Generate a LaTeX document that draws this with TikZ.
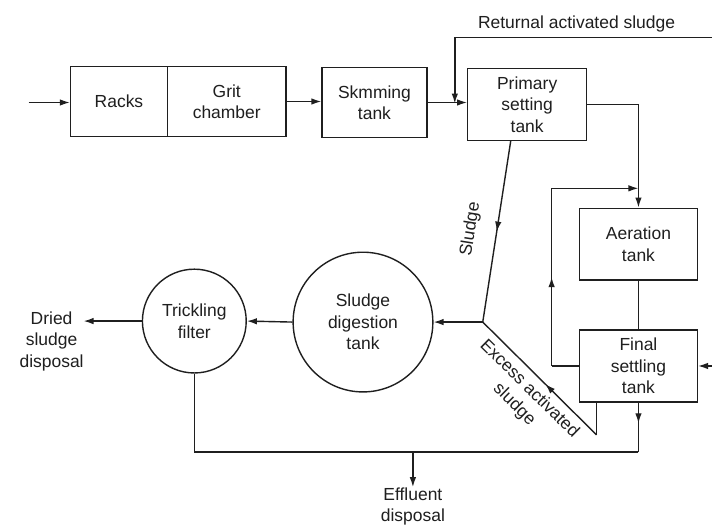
\documentclass[tikz,border=0pt]{standalone}
\usepackage{fontspec}
\setmainfont{Liberation Sans}
\usetikzlibrary{arrows.meta,decorations.markings,calc}
\begin{document}
\begin{tikzpicture}[x=1pt,y=-1pt,
  line width=1.4pt,
  every path/.style={draw=black!88},
  >={Latex[length=10pt,width=6.5pt]},
  txt/.style={font=\fontsize{17.5}{21.5}\selectfont, text=black!88},
  box/.style={txt, draw, rectangle, minimum height=70pt, inner sep=0pt, align=center},
  tank/.style={txt, draw, circle, inner sep=0pt, align=center},
  lbl/.style={txt, align=center, inner sep=0pt},
  midarrow/.style={postaction={decorate}, decoration={markings, mark=at position #1 with {\arrow{>}}}},
]
\useasboundingbox (0,0) rectangle (712,528);
\fill[white] (0,0) rectangle (712,528);

% main row
\node[box, minimum width=97pt]  (racks)   at (118.5,101) {Racks};
\node[box, minimum width=119pt] (grit)    at (226.5,101) {Grit\\chamber};
\node[box, minimum width=105pt] (skim)    at (374.5,102) {Skmming\\tank};
\node[box, minimum width=119pt, minimum height=72pt] (primary) at (527.5,104) {Primary\\setting\\tank};

% right column
\node[box, minimum width=118pt, minimum height=72pt] (aeration) at (639,244) {Aeration\\tank};
\node[box, minimum width=118pt, minimum height=72pt] (final)    at (639,366) {Final\\settling\\tank};

% circles
\node[tank, minimum size=140pt] (digest) at (363,322) {Sludge\\digestion\\tank};
\node[tank, minimum size=104pt] (trick)  at (194,321) {Trickling\\filter};

% labels
\node[lbl] (retlbl) at (577,23) {Returnal activated sludge};
\node[lbl] (dried)  at (51,341) {Dried\\sludge\\disposal};
\node[lbl] (effl)   at (413,507) {Effluent\\disposal};
\node[lbl, rotate=81] (sludgelbl) at (471,229) {Sludge};
\node[lbl, rotate=-44.5] (excesslbl) at (522,397) {Excess activated\\sludge};

% coordinates
\coordinate (inp)    at (28,102);
\coordinate (retTop) at (455,37);
\coordinate (retJn)  at (455,103);
\coordinate (rc)     at (717,37);
\coordinate (lpB)    at (552,366);
\coordinate (lpT)    at (552,188);
\coordinate (exA)    at (597,435);
\coordinate (junc)   at (483,322);
\coordinate (dr)     at (83,321);
\coordinate (bL)     at (194,452);
\coordinate (bR)     at (639,452);
\coordinate (eff)    at (413,452);

% connectors
\draw[->] (inp) -- (inp -| racks.west);
\draw[->] (grit.east) -- (grit.east -| skim.west);
\draw[->] (skim.east) -- (skim.east -| primary.west);
\draw[->] (rc) -- (retTop) -- (retJn);
\draw[->] (rc) |- (final.east);
\draw[->] (primary.east) -| (aeration.north);
\draw (aeration.south) -- (final.north);
\draw (final.west) -- (lpB);
\draw[midarrow=0.5] (lpB) -- (lpT);
\draw[->] (lpT) -- (lpT -| aeration.north);
\draw[midarrow=0.5] ($(primary.south)+(-16.5,0)$) -- (junc);
\draw[->] (junc) -- (digest.east);
\draw[->] (digest.west) -- (trick.east);
\draw[->] (trick.west) -- (dr);
\draw (exA |- final.south) -- (exA);
\draw[midarrow=0.45] (exA) -- (junc);
\draw[midarrow=0.42] (final.south) -- (bR);
\draw (bR) -- (bL) -- (trick.south);
\draw[->] (eff) -- (effl.north);
\end{tikzpicture}
\end{document}
